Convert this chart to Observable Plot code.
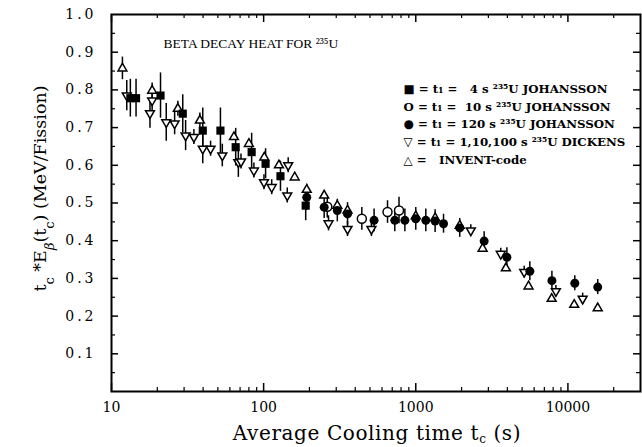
<!DOCTYPE html>
<html><head><meta charset="utf-8">
<script src="https://cdn.jsdelivr.net/npm/d3@7"></script>
<script src="https://cdn.jsdelivr.net/npm/@observablehq/plot@0.6"></script>
<style>
body{margin:0;background:#fff;}
svg{background:#fff;}
svg [aria-label="y-axis tick label"] text{letter-spacing:3px;}
</style></head>
<body><div id="chart"></div>
<script>
// ---- data ----
// Johansson t1 = 4 s (filled squares)
const jo4T = [13.3, 14.5, 21, 29.4, 39.8, 52, 65.5, 83.4, 103, 129, 189];
const jo4V = [0.778, 0.778, 0.785, 0.737, 0.692, 0.692, 0.648, 0.635, 0.604, 0.571, 0.493];
const jo4E = [0.05, 0.05, 0.06, 0.05, 0.06, 0.06, 0.05, 0.05, 0.04, 0.04, 0.04];
// Johansson t1 = 10 s (open circles)
const jo10T = [262, 442, 652, 776];
const jo10V = [0.49, 0.458, 0.476, 0.48];
const jo10E = [0.03, 0.03, 0.03, 0.035];
// Johansson t1 = 120 s (filled circles)
const jo120T = [192, 250, 305, 356, 532, 728, 848, 1000, 1164, 1340, 1522, 1945, 2815, 3970, 5620, 7850, 11100, 15700];
const jo120V = [0.515, 0.489, 0.48, 0.471, 0.454, 0.454, 0.454, 0.458, 0.454, 0.452, 0.445, 0.434, 0.399, 0.356, 0.319, 0.294, 0.287, 0.277];
const jo120E = [0.035, 0.03, 0.03, 0.03, 0.03, 0.03, 0.03, 0.03, 0.03, 0.03, 0.025, 0.025, 0.025, 0.025, 0.025, 0.025, 0.02, 0.02];
// Dickens t1 = 1,10,100 s (open down-triangles)
const dkT = [12.6, 17.9, 18.5, 22.9, 26, 30.7, 34.8, 39.8, 44.8, 53.5, 68.2, 71, 86.3, 100.5, 113, 143, 145, 267, 356, 511, 2300, 3620, 5160, 8340, 12500];
const dkV = [0.785, 0.738, 0.772, 0.714, 0.711, 0.679, 0.675, 0.644, 0.644, 0.626, 0.608, 0.61, 0.586, 0.555, 0.542, 0.52, 0.6, 0.446, 0.431, 0.431, 0.427, 0.365, 0.317, 0.266, 0.246];
const dkE = [0.04, 0.04, 0.03, 0.05, 0.03, 0.04, 0.02, 0.04, 0.02, 0.03, 0.04, 0.02, 0.02, 0.02, 0.02, 0.02, 0.02, 0.02, 0.02, 0.02, 0.015, 0.015, 0.015, 0.015, 0.015];
// INVENT-code (open triangles)
const invT = [11.8, 18.5, 27.3, 38.1, 63.8, 80, 101, 126, 160, 192, 250, 305, 356, 1000, 1340, 1945, 2750, 3910, 5510, 7820, 11000, 15700];
const invV = [0.857, 0.798, 0.75, 0.719, 0.675, 0.657, 0.621, 0.6, 0.568, 0.535, 0.52, 0.493, 0.48, 0.465, 0.46, 0.44, 0.379, 0.327, 0.279, 0.246, 0.23, 0.221];
const invE = [0.03, 0.02, 0.02, 0.02, 0, 0, 0, 0, 0, 0, 0, 0, 0, 0, 0, 0, 0, 0, 0, 0, 0, 0];

const xMajor = [10, 100, 1000, 10000];
const xMinor = [20,30,40,50,60,70,80,90,200,300,400,500,600,700,800,900,2000,3000,4000,5000,6000,7000,8000,9000,20000];
const yMajor = [0.1,0.2,0.3,0.4,0.5,0.6,0.7,0.8,0.9];
const yMinor = [0.05,0.15,0.25,0.35,0.45,0.55,0.65,0.75,0.85,0.95];
const yTickLabels = [0.1,0.2,0.3,0.4,0.5,0.6,0.7,0.8,0.9,1.0];

const title = "BETA DECAY HEAT FOR ²³⁵U";
const legendLines = [
  "■ = t₁ =   4 s ²³⁵U JOHANSSON",
  "O = t₁ =  10 s ²³⁵U JOHANSSON",
  "● = t₁ = 120 s ²³⁵U JOHANSSON",
  "▽ = t₁ = 1,10,100 s ²³⁵U DICKENS",
  "△ =   INVENT-code"
];

const mk = (T, V, E) => T.map((t, i) => ({t, v: V[i], e: E[i]}));
const jo4 = mk(jo4T, jo4V, jo4E), jo10 = mk(jo10T, jo10V, jo10E), jo120 = mk(jo120T, jo120V, jo120E);
const dk = mk(dkT, dkV, dkE), inv = mk(invT, invV, invE);

const SERIF = "DejaVu Serif";
const W = 642, H = 447, mL = 111, mR = 2, mT = 14, mB = 56;
const iw = W - mL - mR, ih = H - mT - mB;
const err = (data) => Plot.ruleX(data.filter(d => d.e > 0), {x: "t", y1: d => d.v - d.e, y2: d => d.v + d.e, stroke: "black", strokeWidth: 1.5});

const plot = Plot.plot({
  width: W, height: H,
  marginLeft: mL, marginRight: mR, marginTop: mT, marginBottom: mB,
  style: {fontFamily: SERIF, background: "white", color: "black"},
  x: {type: "log", domain: [10, 30000]},
  y: {domain: [0, 1]},
  marks: [
    // inward ticks
    Plot.ruleY(yMajor, {y: d => d, insetRight: iw - 7, strokeWidth: 1.5}),
    Plot.ruleY(yMinor, {y: d => d, insetRight: iw - 4, strokeWidth: 1.2}),
    Plot.ruleY(yMajor, {y: d => d, insetLeft: iw - 7, strokeWidth: 1.5}),
    Plot.ruleY(yMinor, {y: d => d, insetLeft: iw - 4, strokeWidth: 1.2}),
    Plot.ruleX(xMajor, {x: d => d, insetTop: ih - 8, strokeWidth: 1.5}),
    Plot.ruleX(xMinor, {x: d => d, insetTop: ih - 4, strokeWidth: 1.2}),
    Plot.ruleX(xMajor, {x: d => d, insetBottom: ih - 8, strokeWidth: 1.5}),
    Plot.ruleX(xMinor, {x: d => d, insetBottom: ih - 4, strokeWidth: 1.2}),
    Plot.frame({stroke: "black", strokeWidth: 2}),
    Plot.axisX({ticks: xMajor, tickSize: 0, tickPadding: 11, tickFormat: d => String(d), fontSize: 14, fontFamily: SERIF, label: null}),
    Plot.axisY({ticks: yTickLabels, tickSize: 0, tickPadding: 15, tickFormat: d => d.toFixed(1), fontSize: 14, fontFamily: SERIF, label: null}),
    // error bars
    err(jo4), err(jo10), err(jo120), err(dk), err(inv),
    // markers
    Plot.dot(inv, {x: "t", y: "v", symbol: "triangle", r: 3.3, stroke: "black", strokeWidth: 1.5, fill: "white"}),
    Plot.dot(dk, {x: "t", y: "v", symbol: "triangle", rotate: 180, r: 3.3, stroke: "black", strokeWidth: 1.5, fill: "white"}),
    Plot.dot(jo10, {x: "t", y: "v", symbol: "circle", r: 4.5, stroke: "black", strokeWidth: 1.5, fill: "white"}),
    Plot.dot(jo120, {x: "t", y: "v", symbol: "circle", r: 4.5, fill: "black"}),
    Plot.dot(jo4, {x: "t", y: "v", symbol: "square", r: 4.6, fill: "black"}),
    // title and legend
    Plot.text([title], {text: d => d, frameAnchor: "top-left", dx: 52, dy: 24, textAnchor: "start", fontSize: 13.5, fontFamily: "Liberation Serif"}),
    Plot.text([legendLines.join("\n")], {text: d => d, frameAnchor: "top-left", dx: 292, dy: 66, textAnchor: "start", lineHeight: 1.5, fontSize: 11.8, fontWeight: "bold", fontFamily: SERIF})
  ]
});

const svg = d3.select(plot);
// y-axis title with subscripts
const yl = svg.append("text")
  .attr("transform", `translate(46, ${mT + ih / 2 - 14}) rotate(-90)`)
  .attr("text-anchor", "middle")
  .attr("font-family", SERIF)
  .attr("font-size", 17.5)
  .attr("fill", "black");
yl.append("tspan").text("t");
yl.append("tspan").attr("baseline-shift", "sub").attr("font-size", 13).text("c");
yl.append("tspan").text(" *E");
yl.append("tspan").attr("baseline-shift", "sub").attr("font-size", 13).attr("font-style", "italic").text("β");
yl.append("tspan").text("(t");
yl.append("tspan").attr("baseline-shift", "sub").attr("font-size", 13).text("c");
yl.append("tspan").text(") (MeV/Fission)");
// x-axis title with subscript
const xl = svg.append("text")
  .attr("x", 377).attr("y", 440)
  .attr("text-anchor", "middle")
  .attr("font-family", SERIF)
  .attr("font-size", 20)
  .attr("letter-spacing", 0.6)
  .attr("fill", "black");
xl.append("tspan").text("Average Cooling time t");
xl.append("tspan").attr("dy", 3).attr("font-size", 12).text("c");
xl.append("tspan").attr("dy", -3).text(" (s)");

document.getElementById("chart").appendChild(plot);
</script>
</body></html>
